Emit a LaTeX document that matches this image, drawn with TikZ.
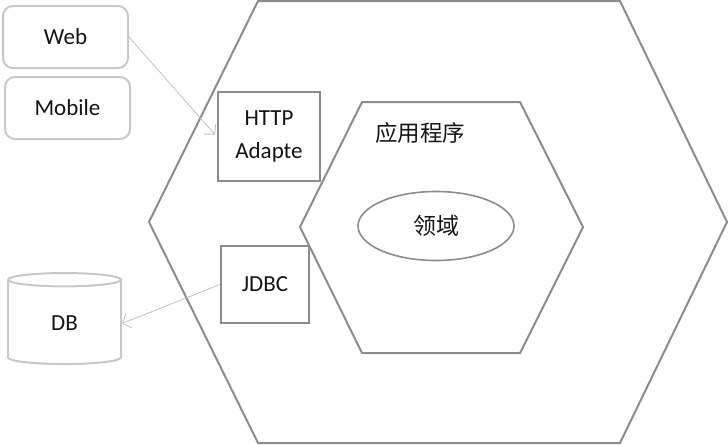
\documentclass[tikz,border=0pt]{standalone}
\usepackage{fontspec}
\setmainfont{Carlito}
\newfontfamily\cjk{Noto Sans CJK SC}
\definecolor{hexgray}{RGB}{140,140,140}
\definecolor{lightgray}{RGB}{200,200,200}
\definecolor{arrowgray}{RGB}{192,192,192}
\definecolor{txt}{RGB}{20,20,20}
\usetikzlibrary{arrows.meta,positioning,shapes.geometric}

\begin{document}
\begin{tikzpicture}[x=1pt,y=-1pt,
  client/.style={draw=lightgray,line width=2pt,rounded corners=10pt,
    minimum width=125pt,minimum height=62pt,font=\fontsize{23}{27}\selectfont,text=txt},
  adapter/.style={draw=hexgray,line width=2.2pt,align=center,
    font=\fontsize{23}{33}\selectfont,text=txt},
  hexside/.style={draw=hexgray,line width=2pt},
  link/.style={draw=arrowgray,line width=0.8pt,-{Straight Barb[length=7pt,width=16pt]}}
]
  \useasboundingbox (0,0) rectangle (728,445);
  \path[hexside] (258,1) -- (620,1) -- (727,222) -- (620,443) -- (258,443) -- (149,222) -- cycle;
  \path[hexside] (362,102) -- (520,102) -- (583,227) -- (520,353) -- (362,353) -- (300,227) -- cycle;
  \node[client] (web) at (65.5,37) {Web};
  \node[client] (mobile) at (67.5,108) {Mobile};
  \node[draw=lightgray,line width=2pt,shape=cylinder,shape border rotate=90,aspect=0.4,
    minimum width=113pt,minimum height=91pt,font=\fontsize{23}{27}\selectfont,text=txt] (db) at (64.5,323.5) {DB};
  \node[adapter,minimum width=102pt,minimum height=89pt] (http) at (269,136.5) {HTTP\\Adapte};
  \node[adapter,minimum width=88pt,minimum height=77pt] (jdbc) at (265,284.5) {JDBC};
  \node[font=\cjk\fontsize{22.5}{27}\selectfont,text=txt] (app) at (420,133) {应用程序};
  \node[draw=hexgray,line width=1.6pt,ellipse,minimum width=156pt,minimum height=69pt,
    font=\cjk\fontsize{23}{27}\selectfont,text=txt] (domain) at (436,226) {领域};
  \draw[link] (web.east) -- ([xshift=-2pt,yshift=2pt]http.west);
  \draw[link] (jdbc.west) -- (db.east);
\end{tikzpicture}
\end{document}
